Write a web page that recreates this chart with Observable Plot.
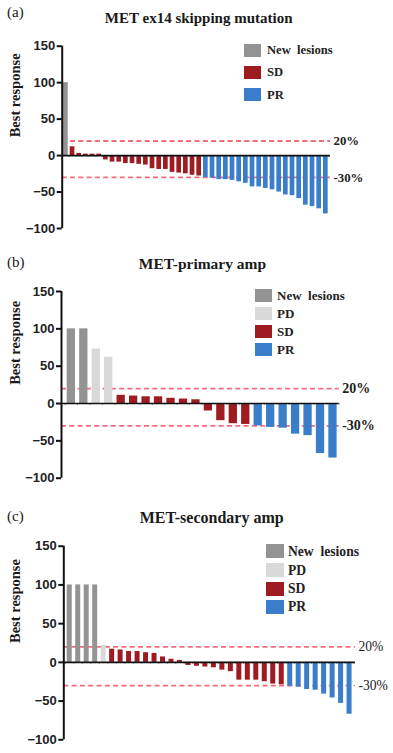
<!DOCTYPE html>
<html><head><meta charset="utf-8">
<script src="https://cdn.jsdelivr.net/npm/d3@7"></script>
<script src="https://cdn.jsdelivr.net/npm/@observablehq/plot@0.6"></script>
<style>
body{margin:0;background:#fff;width:393px;overflow:hidden}
.panel{position:relative;width:393px}
.panel svg{position:absolute;left:0;top:0}
.lab,.title,.leg{position:absolute;font-family:"Liberation Serif","Times New Roman",serif;color:#1a1a1a;white-space:pre;line-height:1}
.title{font-weight:bold;transform:translateX(-50%)}
.leg{display:flex;align-items:center;font-weight:bold;color:#222}
.sw{display:inline-block}
</style>
</head><body>
<div id="root"></div>
<script>
// ---- data ----
const panelLetters = ["(a)", "(b)", "(c)"];
const panelTitles = ["MET ex14 skipping mutation", "MET-primary amp", "MET-secondary amp"];
const categories = ["New  lesions", "PD", "SD", "PR"];
const catColors = ["#939393", "#d9d9d9", "#9e1b21", "#3a7ecb"];
const yTicks = [-100, -50, 0, 50, 100, 150];
const refLines = [20, -30];
const refLabels = ["20%", "-30%"];
const yLabel = "Best response";

const aNew = [100];
const aSD = [12, 3, 2, 2, 2, -6, -9, -9, -11, -11, -12, -13, -18, -19, -19, -23, -24, -25, -27, -28];
const aPR = [-30, -31, -33, -33, -34, -36, -38, -43, -43, -45, -47, -50, -54, -55, -59, -68, -70, -73, -80];

const bNew = [100, 100];
const bPD = [73, 62];
const bSD = [11, 10, 9, 9, 7, 6, 5, -10, -23, -27, -28];
const bPR = [-30, -32, -33, -41, -43, -67, -73];

const cNew = [100, 100, 100, 100];
const cPD = [22];
const cSD = [17, 16, 14, 14, 12.5, 11.5, 7, 4, 2.5, -4, -5, -6, -7, -10, -12, -23, -23, -23, -25, -28, -29];
const cPR = [-31, -32, -35, -36, -41, -46, -53, -67];

const pink = "#f46c7c";
const serif = "Liberation Serif, Times New Roman, serif";
const sans = "Liberation Sans, Arial, sans-serif";

const panels = [
  {groups: [["New  lesions", aNew], ["SD", aSD], ["PR", aPR]], legend: ["New  lesions", "SD", "PR"],
   height: 250, ml: 61.7, mr: 63, mt: 45.7, mb: 22, x0: -0.05, xe: 0.2, inset: 1.0, ylDx: -47,
   pctSize: 12.8, pctWeight: "bold",
   titleX: 198.7, titleTop: 11.4, titleSize: 15, letterTop: 5.4,
   legX: 244, legW: 17, legH: 13, legTops: [44, 66, 88.3], legTextX: 267, legSize: 12.6},
  {groups: [["New  lesions", bNew], ["PD", bPD], ["SD", bSD], ["PR", bPR]], legend: ["New  lesions", "PD", "SD", "PR"],
   height: 250, ml: 61, mr: 54.3, mt: 41, mb: 22.3, x0: -0.29, xe: 0, inset: 2.08, ylDx: -46,
   pctSize: 14, pctWeight: "bold",
   titleX: 202.5, titleTop: 6.3, titleSize: 15.5, letterTop: 5.4,
   legX: 255, legW: 17, legH: 12.5, legTops: [39.3, 57.3, 75, 93.3], legTextX: 277, legSize: 13},
  {groups: [["New  lesions", cNew], ["PD", cPD], ["SD", cSD], ["PR", cPR]], legend: ["New  lesions", "PD", "SD", "PR"],
   height: 253, ml: 63.3, mr: 38, mt: 45.7, mb: 13.7, x0: -0.2, xe: 0.2, inset: 1.74, ylDx: -48,
   pctSize: 13.6, pctWeight: "normal",
   titleX: 211.7, titleTop: 9.9, titleSize: 16, letterTop: 9.4,
   legX: 266, legW: 17.5, legH: 14, legTops: [44.3, 63.3, 81.7, 100], legTextX: 288, legSize: 13.6}
];

const root = document.getElementById("root");
panels.forEach((cfg, k) => {
  const rows = [];
  cfg.groups.forEach(([cat, vals]) => vals.forEach(v => rows.push({i: rows.length, v, cat})));
  const n = rows.length;
  const div = document.createElement("div");
  div.className = "panel";
  div.style.height = cfg.height + "px";
  const chart = Plot.plot({
    width: 393, height: cfg.height,
    marginLeft: cfg.ml, marginRight: cfg.mr, marginTop: cfg.mt, marginBottom: cfg.mb,
    x: {domain: [cfg.x0, n + cfg.xe], axis: null},
    y: {domain: [-100, 150], axis: null},
    color: {domain: categories, range: catColors},
    style: {background: "transparent", overflow: "visible"},
    marks: [
      Plot.ruleY(refLines, {stroke: pink, strokeWidth: 1.8, strokeDasharray: "5,3.3"}),
      Plot.rect(rows, {x1: "i", x2: d => d.i + 1, y1: 0, y2: "v", fill: "cat", insetLeft: cfg.inset, insetRight: cfg.inset}),
      Plot.ruleX(d3.range(n + 1), {y1: 0, y2: -2.5, stroke: "#555", strokeWidth: 0.7}),
      Plot.ruleY([0], {stroke: "#111", strokeWidth: 1.6}),
      Plot.ruleX([cfg.x0], {y1: -100, y2: 150, stroke: "#111", strokeWidth: 2}),
      Plot.axisY({ticks: yTicks, tickSize: 5, tickPadding: 2, strokeWidth: 2, stroke: "#111",
        fontSize: 13, fontWeight: "bold", fontFamily: sans, fill: "#222", label: null}),
      Plot.text(refLines, {y: d => d, text: (d, i) => refLabels[i], frameAnchor: "right", textAnchor: "start",
        dx: 3, fontSize: cfg.pctSize, fontWeight: cfg.pctWeight, fontFamily: serif, fill: "#222"}),
      Plot.text([yLabel], {frameAnchor: "left", rotate: -90, dx: cfg.ylDx, fontSize: 14.5, fontWeight: "bold",
        fontFamily: serif, fill: "#1a1a1a"})
    ]
  });
  div.appendChild(chart);

  const letter = document.createElement("div");
  letter.className = "lab";
  letter.style.cssText = `left:7px;top:${cfg.letterTop}px;font-size:15px;`;
  letter.textContent = panelLetters[k];
  div.appendChild(letter);

  const title = document.createElement("div");
  title.className = "title";
  title.style.cssText = `left:${cfg.titleX}px;top:${cfg.titleTop}px;font-size:${cfg.titleSize}px;`;
  title.textContent = panelTitles[k];
  div.appendChild(title);

  cfg.legend.forEach((name, j) => {
    const row = document.createElement("div");
    row.className = "leg";
    row.style.cssText = `left:${cfg.legX}px;top:${cfg.legTops[j]}px;height:${cfg.legH}px;font-size:${cfg.legSize}px;`;
    const sw = document.createElement("span");
    sw.className = "sw";
    sw.style.cssText = `width:${cfg.legW}px;height:${cfg.legH}px;background:${catColors[categories.indexOf(name)]};margin-right:${cfg.legTextX - cfg.legX - cfg.legW}px;`;
    const t = document.createElement("span");
    t.textContent = name;
    row.appendChild(sw);
    row.appendChild(t);
    div.appendChild(row);
  });
  root.appendChild(div);
});
</script>
</body></html>
